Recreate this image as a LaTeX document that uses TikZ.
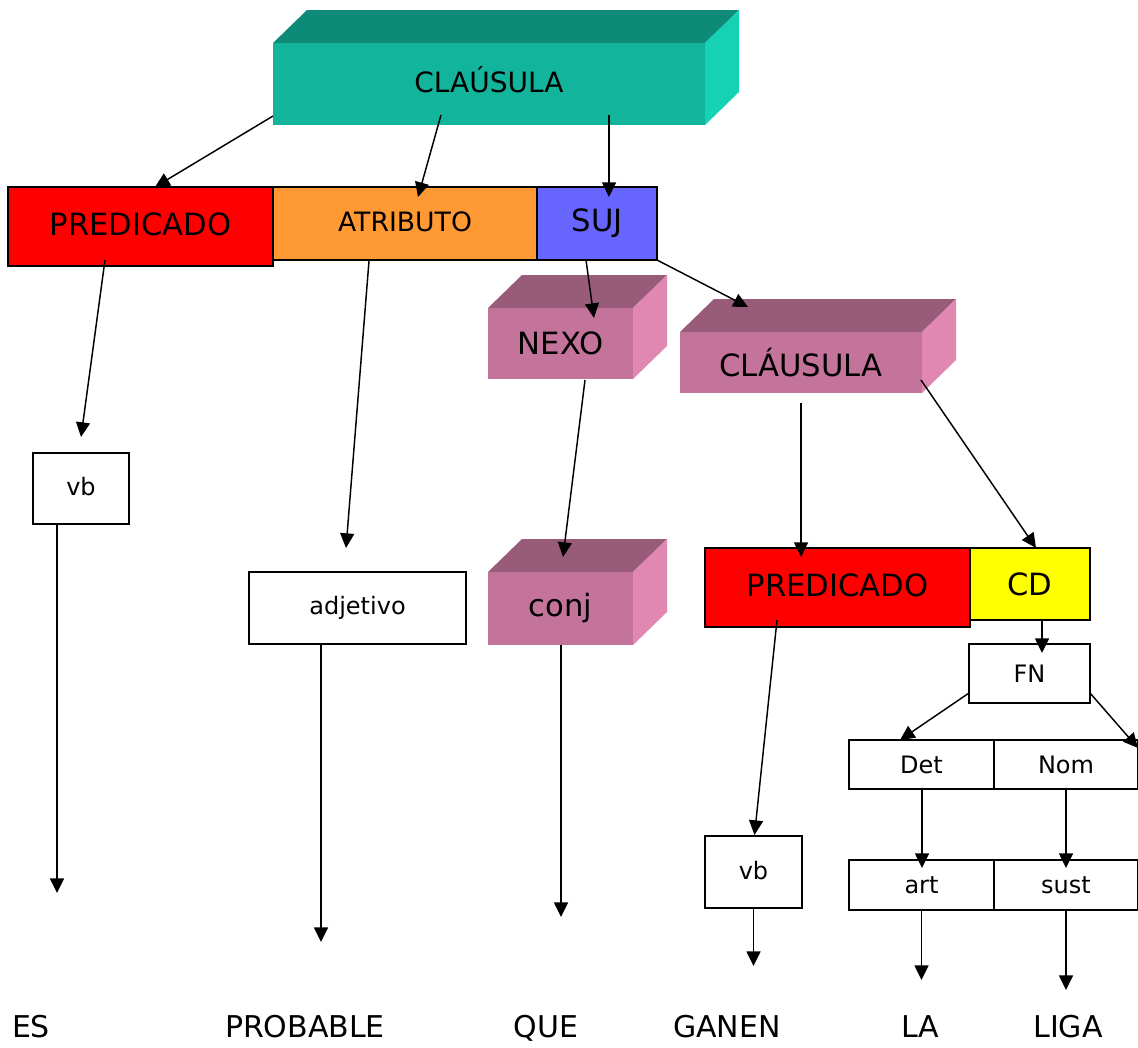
\documentclass[tikz,border=0pt]{standalone}
\usepackage{fontspec}
\setmainfont{DejaVu Sans}
\usetikzlibrary{calc,arrows.meta}
\definecolor{tealF}{HTML}{12B59B}
\definecolor{tealT}{HTML}{0E8A78}
\definecolor{tealR}{HTML}{14D2B3}
\definecolor{mauveF}{HTML}{C4749B}
\definecolor{mauveT}{HTML}{985C79}
\definecolor{mauveR}{HTML}{E087B2}
\definecolor{predRed}{HTML}{FF0000}
\definecolor{atrOrange}{HTML}{FF9933}
\definecolor{sujBlue}{HTML}{6666FF}
\definecolor{cdYellow}{HTML}{FFFF00}
\newcommand\cuboidfaces[3]{%
  \fill[#2] (#1.north west) -- ++(34,-33) -- ($(#1.north east)+(34,-33)$) -- (#1.north east) -- cycle;
  \fill[#3] (#1.north east) -- ++(34,-33) -- ($(#1.south east)+(34,-33)$) -- (#1.south east) -- cycle;}
\begin{document}
\begin{tikzpicture}[x=0.75pt,y=-0.75pt,
  wh/.style 2 args={minimum width=#1*0.75pt,minimum height=#2*0.75pt},
  flat/.style={draw=black,line width=1.3pt,inner sep=0pt,outer sep=0pt},
  face/.style={inner sep=0pt,outer sep=0pt},
  arr/.style={line width=1.1pt,-{Triangle[length=11pt,width=10.5pt]}},
  fbig/.style={font=\fontsize{23}{27}\selectfont},
  fmid/.style={font=\fontsize{21}{25}\selectfont},
  fsmall/.style={font=\fontsize{18}{22}\selectfont},
  word/.style={anchor=base,inner sep=0pt,font=\fontsize{22.5}{26}\selectfont}]
\useasboundingbox (0,0) rectangle (1138,1047);

% top clause (3D)
\node[face,fill=tealF,wh={432}{82},fmid] (cl1) at (489,84) {\raisebox{6pt}{CLAÚSULA}};
\cuboidfaces{cl1}{tealT}{tealR}

% second row
\node[flat,fill=predRed,wh={265}{79},fbig] (pred1) at (140.5,226.5) {\raisebox{3pt}{PREDICADO}};
\node[flat,fill=atrOrange,wh={264}{73},font=\fontsize{20}{24}\selectfont] (atr) at (405,223.5) {\raisebox{3pt}{ATRIBUTO}};
\node[flat,fill=sujBlue,wh={120}{73},fbig] (suj) at (597,223.5) {SUJ};

% NEXO and inner clause (3D)
\node[face,fill=mauveF,wh={145}{71},fbig] (nexo) at (560.5,343.5) {NEXO};
\cuboidfaces{nexo}{mauveT}{mauveR}
\node[face,fill=mauveF,wh={242}{61},fbig] (cl2) at (801,362.5) {\raisebox{-3pt}{CLÁUSULA}};
\cuboidfaces{cl2}{mauveT}{mauveR}

% lower boxes
\node[flat,fill=white,wh={96}{71},fsmall] (vb1) at (81,488.5) {\raisebox{3pt}{vb}};
\node[flat,fill=white,wh={217}{72},fsmall] (adj) at (357.5,608) {\raisebox{3pt}{adjetivo}};
\node[face,fill=mauveF,wh={145}{73},fbig] (conj) at (560.5,608.5) {conj};
\cuboidfaces{conj}{mauveT}{mauveR}
\node[flat,fill=predRed,wh={265}{79},fbig] (pred2) at (837.5,587.5) {\raisebox{3pt}{PREDICADO}};
\node[flat,fill=cdYellow,wh={120}{72},fbig] (cd) at (1030,584) {CD};
\node[flat,fill=white,wh={121}{59},fsmall] (fn) at (1029.5,673.5) {FN};
\node[flat,fill=white,wh={145}{49},fsmall] (det) at (921.5,764.5) {\raisebox{-4pt}{Det}};
\node[flat,fill=white,wh={144}{49},fsmall] (nom) at (1066,764.5) {\raisebox{-4pt}{Nom}};
\node[flat,fill=white,wh={145}{50},fsmall] (art) at (921.5,885) {\raisebox{-2pt}{art}};
\node[flat,fill=white,wh={144}{50},fsmall] (sust) at (1066,885) {\raisebox{-2pt}{sust}};
\node[flat,fill=white,wh={97}{72},fsmall] (vb2) at (753.5,872) {\raisebox{3pt}{vb}};

% words
\node[word] (es) at (31,1037) {ES};
\node[word] (probable) at (305,1037) {PROBABLE};
\node[word] (que) at (546,1037) {QUE};
\node[word] (ganen) at (727,1037) {GANEN};
\node[word] (la) at (920,1037) {LA};
\node[word] (liga) at (1068,1037) {LIGA};

% connectors
\draw[arr] ($(cl1.south west)+(0,-9)$) -- ($(pred1.north)+(14.5,0)$);
\draw[arr] ($(cl1.south west)+(168,-10)$) -- ($(atr.north)+(13,10)$);
\draw[arr] ($(cl1.south west)+(336,-10)$) -- ($(suj.north)+(12,10)$);
\draw[arr] ($(pred1.south)+(-35.5,-6)$) -- ($(vb1.north)+(0,-16)$);
\draw[arr] ($(vb1.south)+(-24,0)$) -- ++(0,369);
\draw[arr] ($(atr.south)+(-36,1)$) -- ($(adj.north)+(-11.5,-24)$);
\draw[arr] ($(adj.south)+(-36.5,0)$) -- ++(0,298);
\draw[arr] ($(suj.south)+(-11,0)$) -- ($(nexo.north)+(33.5,10)$);
\draw[arr] (suj.south east) -- ($(cl2.north)+(-53,-25)$);
\draw[arr] ($(nexo.south)+(24.5,1)$) -- ($(conj.north)+(2.5,-15)$);
\draw[arr] ($(conj.south)+(0.5,0)$) -- ++(0,272);
\draw[arr] ($(cl2.south)+(0,10)$) -- ($(pred2.north)+(-36.5,9)$);
\draw[arr] ($(cl2.south east)+(-1,-13)$) -- ($(cd.north)+(6,0)$);
\draw[arr] ($(cd.south)+(12,0)$) -- ($(fn.north)+(12.5,9)$);
\draw[arr] ($(fn.south west)+(0,-10)$) -- ($(det.north)+(-21.5,0)$);
\draw[arr] ($(fn.south east)+(0,-10)$) -- ($(nom.north east)+(0,8)$);
\draw[arr] ($(det.south)+(0.5,0)$) -- ($(art.north)+(0.5,8)$);
\draw[arr] (nom.south) -- ($(sust.north)+(0,8)$);
\draw[arr] ($(pred2.south)+(-60.5,-7)$) -- ($(vb2.north)+(1,-1)$);
\draw[arr] (vb2.south) -- ++(0,58);
\draw[arr] (art.south) -- ++(0,70);
\draw[arr] (sust.south) -- ++(0,80);
\end{tikzpicture}
\end{document}
